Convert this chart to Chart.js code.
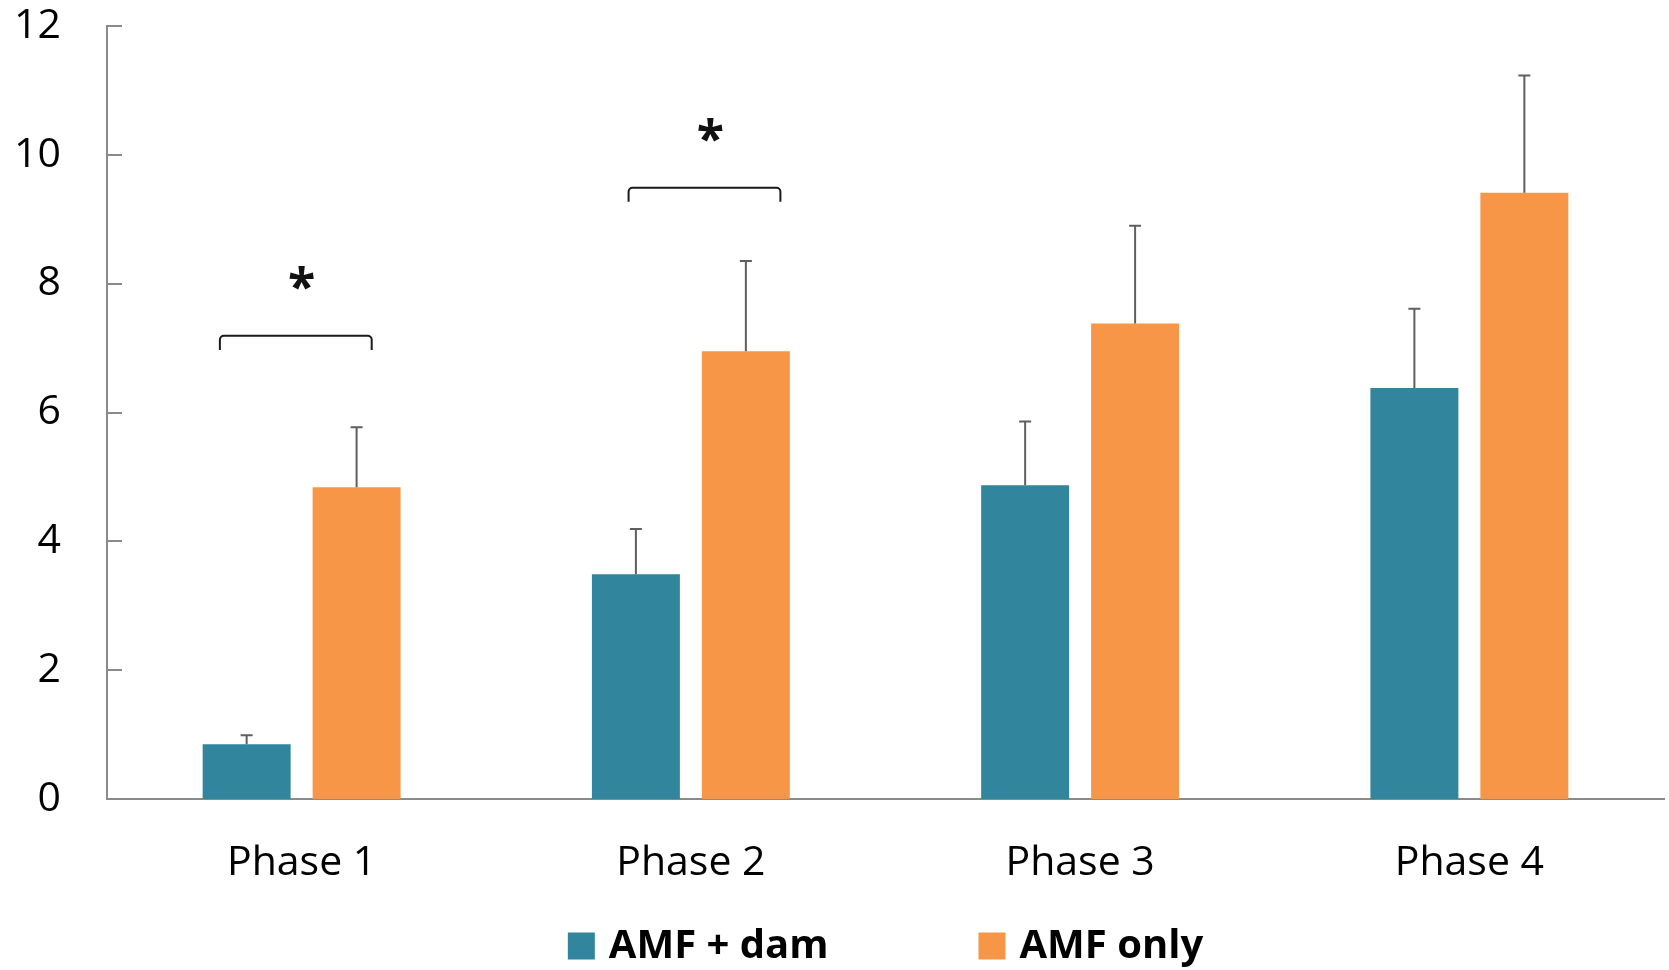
<!DOCTYPE html>
<html>
<head>
<meta charset="utf-8">
<script src="https://cdn.jsdelivr.net/npm/chart.js@4/dist/chart.umd.min.js"></script>
<style>
  html, body { margin: 0; padding: 0; background: #fff; }
  #wrap { width: 1669px; height: 970px; position: relative; }
</style>
</head>
<body>
<div id="wrap"><canvas id="chart"></canvas></div>
<script>
const categories = ['Phase 1', 'Phase 2', 'Phase 3', 'Phase 4']
const seriesNames = ['AMF + dam', 'AMF only']
const amfDam = [0.85, 3.49, 4.87, 6.38]
const amfDamErr = [0.14, 0.70, 0.99, 1.23]
const amfOnly = [4.84, 6.95, 7.38, 9.41]
const amfOnlyErr = [0.93, 1.40, 1.52, 1.82]
const yTicks = [0, 2, 4, 6, 8, 10, 12]

// significance brackets, in category index / value units
const sigFrom = [-0.21, 0.84]
const sigTo = [0.18, 1.23]
const sigY = [7.19, 9.49]
const sigDrop = 0.22
const starX = [0.0, 1.05]
const starY = [8.09, 10.39]

const AXIS = '#8a8a8a'
const FONT = "'Open Sans', sans-serif"

// upward error bars with a cap
const errorBars = {
  id: 'errorBars',
  afterDatasetsDraw(chart) {
    const ctx = chart.ctx
    const y = chart.scales.y
    const errs = [amfDamErr, amfOnlyErr]
    ctx.save()
    ctx.strokeStyle = '#5f5f5f'
    ctx.lineWidth = 2
    chart.data.datasets.forEach((ds, i) => {
      const meta = chart.getDatasetMeta(i)
      meta.data.forEach((bar, j) => {
        const top = y.getPixelForValue(ds.data[j] + errs[i][j])
        ctx.beginPath()
        ctx.moveTo(bar.x, bar.y)
        ctx.lineTo(bar.x, top)
        ctx.moveTo(bar.x - 6, top)
        ctx.lineTo(bar.x + 6, top)
        ctx.stroke()
      })
    })
    ctx.restore()
  }
}

// inward tick marks on the value axis
const innerTicks = {
  id: 'innerTicks',
  afterDraw(chart) {
    const ctx = chart.ctx
    const y = chart.scales.y
    const left = chart.chartArea.left
    ctx.save()
    ctx.strokeStyle = AXIS
    ctx.lineWidth = 2
    yTicks.forEach(v => {
      const py = Math.round(y.getPixelForValue(v))
      ctx.beginPath()
      ctx.moveTo(left, py)
      ctx.lineTo(left + 15, py)
      ctx.stroke()
    })
    ctx.restore()
  }
}

// brackets and asterisks
const significance = {
  id: 'significance',
  afterDraw(chart) {
    const ctx = chart.ctx
    const x = chart.scales.x
    const y = chart.scales.y
    ctx.save()
    ctx.strokeStyle = '#1a1a1a'
    ctx.lineWidth = 2
    ctx.lineJoin = 'round'
    sigFrom.forEach((from, i) => {
      const x1 = x.getPixelForValue(from)
      const x2 = x.getPixelForValue(sigTo[i])
      const yt = y.getPixelForValue(sigY[i])
      const yb = y.getPixelForValue(sigY[i] - sigDrop)
      ctx.beginPath()
      ctx.moveTo(x1, yb)
      ctx.arcTo(x1, yt, x1 + 4, yt, 4)
      ctx.arcTo(x2, yt, x2, yt + 4, 4)
      ctx.lineTo(x2, yb)
      ctx.stroke()
    })
    ctx.fillStyle = '#111'
    ctx.font = 'bold 50px ' + FONT
    ctx.textAlign = 'center'
    ctx.textBaseline = 'alphabetic'
    const m = ctx.measureText('*')
    const shift = (m.actualBoundingBoxAscent - m.actualBoundingBoxDescent) / 2
    starX.forEach((sx, i) => {
      ctx.fillText('*', x.getPixelForValue(sx), y.getPixelForValue(starY[i]) + shift)
    })
    ctx.restore()
  }
}

// legend row under the axis labels, centred on the plot area
const bottomLegend = {
  id: 'bottomLegend',
  afterDraw(chart) {
    const ctx = chart.ctx
    const area = chart.chartArea
    const box = 27, gapText = 14, gapItem = 150, cy = 946
    ctx.save()
    ctx.font = 'bold 40px ' + FONT
    ctx.textBaseline = 'middle'
    ctx.textAlign = 'left'
    const items = chart.data.datasets.map(ds => ({
      text: ds.label, color: ds.backgroundColor, w: ctx.measureText(ds.label).width
    }))
    let total = 0
    items.forEach((it, i) => { total += box + gapText + it.w + (i ? gapItem : 0) })
    let px = (area.left + area.right) / 2 - total / 2
    items.forEach(it => {
      ctx.fillStyle = it.color
      ctx.fillRect(px, cy - box / 2, box, box)
      ctx.fillStyle = '#000'
      ctx.fillText(it.text, px + box + gapText, cy + 1)
      px += box + gapText + it.w + gapItem
    })
    ctx.restore()
  }
}

new Chart(document.getElementById('chart'), {
  type: 'bar',
  data: {
    labels: categories,
    datasets: [
      { label: seriesNames[0], data: amfDam, backgroundColor: '#31859c' },
      { label: seriesNames[1], data: amfOnly, backgroundColor: '#f79646' }
    ]
  },
  options: {
    responsive: true,
    maintainAspectRatio: false,
    animation: false,
    categoryPercentage: 0.565,
    barPercentage: 0.8,
    layout: { padding: { top: 26, right: 5, bottom: 0, left: 0 }, autoPadding: false },
    scales: {
      x: {
        grid: { display: false, drawTicks: false },
        border: { display: true, color: AXIS, width: 2 },
        ticks: { color: '#000', font: { family: FONT, size: 41 }, padding: 40 },
        afterFit(scale) {
          scale.height = 171
          scale.paddingLeft = 0
          scale.paddingRight = 0
        }
      },
      y: {
        min: 0,
        max: 12,
        grid: { display: false, drawTicks: false },
        border: { display: true, color: AXIS, width: 2 },
        ticks: { stepSize: 2, color: '#000', font: { family: FONT, size: 41 }, padding: 46 },
        afterFit(scale) {
          scale.width = 107
          scale.paddingTop = 0
          scale.paddingBottom = 0
        }
      }
    },
    plugins: {
      legend: { display: false },
      tooltip: { enabled: false }
    }
  },
  plugins: [errorBars, innerTicks, significance, bottomLegend]
})
</script>
</body>
</html>
